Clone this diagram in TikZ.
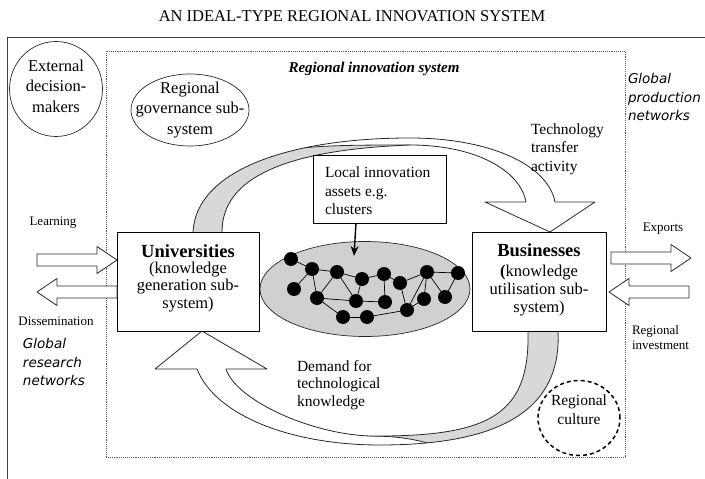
\documentclass[tikz,border=0pt]{standalone}
\usepackage{fontspec}
\setmainfont{Liberation Serif}
\newfontfamily\netfont{DejaVu Sans}
\usetikzlibrary{shapes.geometric,arrows.meta}

\definecolor{ribbongray}{RGB}{216,216,216}
\definecolor{assetgray}{RGB}{208,208,208}
\definecolor{inkgray}{RGB}{40,40,40}
\definecolor{dotline}{RGB}{90,90,90}

\tikzset{
  every node/.style={inner sep=0pt, outer sep=0pt},
  outerframe/.style={draw=dotline!70!black, line width=0.9pt},
  risbox/.style={draw=dotline, line width=0.9pt, densely dotted},
  sysbox/.style={draw=black, fill=white, line width=0.8pt},
  bubble/.style={draw=inkgray, ellipse, line width=0.7pt},
  dashedring/.style={draw=black, ellipse, line width=1.5pt, dash pattern=on 4pt off 3pt},
  titletext/.style={font=\fontsize{16.5}{19}\selectfont},
  headtext/.style={font=\fontsize{15}{18}\selectfont\bfseries\itshape},
  bubbletext/.style={font=\fontsize{16.5}{20.5}\selectfont, align=center},
  notetext/.style={font=\fontsize{15.5}{18.5}\selectfont, align=left},
  smalltext/.style={font=\fontsize{13}{15}\selectfont, align=left},
  globaltext/.style={font=\netfont\itshape\fontsize{13.5}{18.5}\selectfont, align=left},
  boxhead/.style={font=\fontsize{18.5}{21}\selectfont\bfseries},
  boxbody/.style={font=\fontsize{16.5}{17.5}\selectfont, align=center},
  netdot/.style={circle, fill=black, minimum size=14pt},
  netlink/.style={draw=black, line width=0.7pt},
  ribbonline/.style={draw=inkgray, line width=0.8pt},
  blockarrow/.pic={\draw[draw=inkgray, fill=white, line width=0.8pt]
      (0,-6) -- (60,-6) -- (60,-13.5) -- (80,0) -- (60,13.5) -- (60,6) -- (0,6) -- cycle;},
}

\begin{document}
\begin{tikzpicture}[x=1pt, y=-1pt, line join=round]
\useasboundingbox (0,0) rectangle (705,479);
\fill[white] (0,0) rectangle (705,479);

% heading
\node[titletext] (title) at (352,16) {AN IDEAL-TYPE REGIONAL INNOVATION SYSTEM};

% outer frame, open towards the right and the bottom
\coordinate (frameTR) at (705,37);
\coordinate (frameTL) at (7,37);
\coordinate (frameBL) at (7,479);
\draw[outerframe] (frameTR) -- (frameTL) -- (frameBL);

% boundary of the regional system
\node[risbox, minimum width=519pt, minimum height=406pt, anchor=north west] (ris) at (106,51) {};
\node[headtext] (ristitle) at (374,69) {Regional innovation system};

% bubbles
\node[bubble, minimum width=93pt, minimum height=95pt] (ext) at (56,89) {};
\node[bubbletext] (extlabel) at (56,86) {External\\decision-\\makers};
\node[bubble, minimum width=118pt, minimum height=72pt] (gov) at (190,110) {};
\node[bubbletext] (govlabel) at (190,110) {Regional\\governance sub-\\system};
\node[dashedring, minimum width=82pt, minimum height=75pt] (culture) at (579,418) {};
\node[bubbletext, font=\fontsize{15.5}{19}\selectfont] (culturelabel) at (579,410) {Regional\\culture};

% technology transfer ribbon (top)
\fill[ribbongray] (193,232) .. controls (196,170) and (290,138) .. (410,138)
  .. controls (490,138) and (548,165) .. (555,202) -- (526,202)
  .. controls (520,170) and (475,145) .. (410,145)
  .. controls (280,150) and (222,180) .. (222,232) -- cycle;
\begin{scope}
  \clip (193,232) .. controls (196,170) and (290,138) .. (410,138)
    .. controls (490,138) and (548,165) .. (555,202) -- (526,202)
    .. controls (520,170) and (475,145) .. (410,145)
    .. controls (280,150) and (222,180) .. (222,232) -- cycle;
  \fill[white] (250,158) .. controls (290,145) and (340,145) .. (410,145)
    .. controls (475,145) and (520,170) .. (526,202) -- (620,202) -- (620,100) -- (250,100) -- cycle;
  \draw[ribbonline] (250,158) .. controls (290,145) and (340,145) .. (410,145);
\end{scope}
\draw[ribbonline] (410,145) .. controls (475,145) and (520,170) .. (526,202);
\draw[ribbonline] (193,232) .. controls (196,170) and (290,138) .. (410,138)
  .. controls (490,138) and (548,165) .. (555,202);
\draw[ribbonline] (222,232) .. controls (222,180) and (280,150) .. (410,145);
\fill[white] (526,202) -- (485,202) -- (550,232) -- (595,202) -- (555,202) -- cycle;
\draw[ribbonline] (526,202) -- (485,202) -- (550,232) -- (595,202) -- (555,202);

% demand ribbon (bottom)
\fill[ribbongray] (558,331) .. controls (562,410) and (500,445) .. (380,445)
  .. controls (290,445) and (215,415) .. (197,369) -- (226,369)
  .. controls (236,400) and (310,434) .. (370,436)
  .. controls (490,437) and (530,415) .. (528,331) -- cycle;
\begin{scope}
  \clip (558,331) .. controls (562,410) and (500,445) .. (380,445)
    .. controls (290,445) and (215,415) .. (197,369) -- (226,369)
    .. controls (236,400) and (310,434) .. (370,436)
    .. controls (490,437) and (530,415) .. (528,331) -- cycle;
  \fill[white] (440,447) .. controls (420,440) and (400,436) .. (370,436)
    .. controls (310,434) and (236,400) .. (226,369) -- (140,369) -- (140,470) -- (440,470) -- cycle;
  \draw[ribbonline] (440,447) .. controls (420,440) and (400,436) .. (370,436);
\end{scope}
\draw[ribbonline] (370,436) .. controls (310,434) and (236,400) .. (226,369);
\draw[ribbonline] (558,331) .. controls (562,410) and (500,445) .. (380,445)
  .. controls (290,445) and (215,415) .. (197,369);
\draw[ribbonline] (528,331) .. controls (530,415) and (490,437) .. (370,436);
\fill[white] (197,369) -- (155,369) -- (202,331) -- (267,369) -- (226,369) -- cycle;
\draw[ribbonline] (197,369) -- (155,369) -- (202,331) -- (267,369) -- (226,369);

% local innovation assets: a network of firms
\node[draw=inkgray, fill=assetgray, ellipse, line width=0.7pt,
      minimum width=210pt, minimum height=95pt] (assets) at (365,289) {};
\foreach \k/\px/\py in {1/291/259, 2/312/269, 3/294/289, 4/337/272, 5/317/298,
    6/362/279, 7/356/301, 8/343/317, 9/367/317, 10/384/274, 11/385/302,
    12/400/283, 13/407/310, 14/427/272, 15/424/299, 16/445/297, 17/458/273}
  \node[netdot] (n\k) at (\px,\py) {};
\foreach \a/\b in {1/2, 2/3, 2/4, 2/5, 4/5, 4/6, 4/7, 5/7, 5/8, 6/7, 6/10,
    7/11, 8/9, 9/13, 10/11, 10/12, 12/13, 12/14, 13/14, 13/15, 14/15,
    14/16, 14/17, 16/17}
  \draw[netlink] (n\a) -- (n\b);

\node[sysbox, minimum width=133pt, minimum height=68pt, anchor=north west] (local) at (313,155) {};
\node[notetext, anchor=west] (locallabel) at (325,191) {Local innovation\\assets e.g.\\clusters};
\coordinate (localfoot) at (356,223);
\coordinate (assetspot) at (354,256);
\draw[line width=1.4pt, -{Stealth[length=10pt, width=8pt]}] (localfoot) -- (assetspot);

% the two sub-systems
\node[sysbox, minimum width=142pt, minimum height=99pt, anchor=north west] (uni) at (117,232) {};
\node[boxhead] (unihead) at (188,251) {Universities};
\node[boxbody] (unibody) at (188,287) {(knowledge\\generation sub-\\system)};
\node[sysbox, minimum width=134pt, minimum height=99pt, anchor=north west] (biz) at (472,232) {};
\node[boxhead] (bizhead) at (539,250) {Businesses};
\node[boxbody, font=\fontsize{16.5}{18}\selectfont] (bizbody) at (539,291) {\textbf{(}knowledge\\utilisation sub-\\system)};

% flows across the boundary
\pic at (37,260) {blockarrow};
\pic[rotate=180] at (117,292) {blockarrow};
\pic at (611,258) {blockarrow};
\pic[rotate=180] at (689,292) {blockarrow};

% labels
\node[smalltext] (learnlabel) at (53,223) {Learning};
\node[smalltext] (disslabel) at (56,321) {Dissemination};
\node[globaltext, anchor=west] (grn) at (23,362) {Global\\research\\networks};
\node[globaltext, anchor=west] (gpn) at (628,97) {Global\\production\\networks};
\node[smalltext] (exportlabel) at (663,229) {Exports};
\node[smalltext, anchor=west] (investlabel) at (632,338) {Regional\\investment};
\node[notetext, anchor=west] (techlabel) at (531,149) {Technology\\transfer\\activity};
\node[notetext, anchor=west, font=\fontsize{15.5}{17.5}\selectfont] (demandlabel) at (297,385) {Demand for\\technological\\knowledge};
\end{tikzpicture}
\end{document}
